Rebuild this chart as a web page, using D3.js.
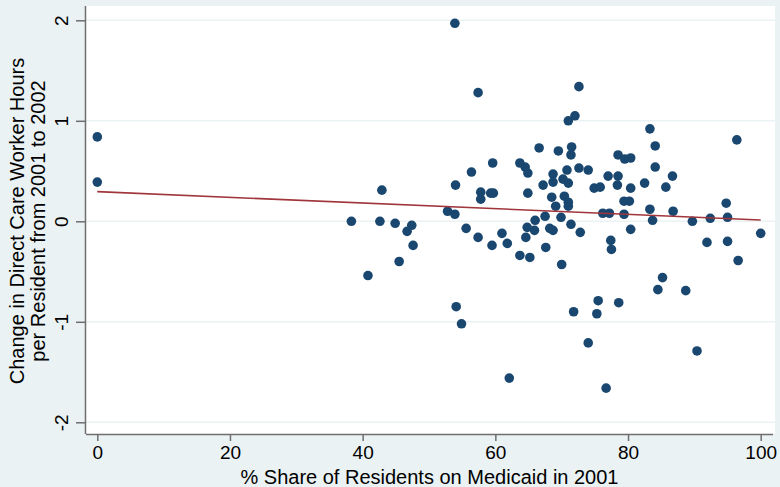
<!DOCTYPE html>
<html>
<head>
<meta charset="utf-8">
<script src="https://cdn.jsdelivr.net/npm/d3@7"></script>
<style>
  html, body { margin: 0; padding: 0; background: #eaf2f3; }
  svg { display: block; font-family: "Liberation Sans", Arial, Helvetica, sans-serif; }
</style>
</head>
<body>
<div id="chart"></div>
<script>
// % share of residents on Medicaid in 2001
const medicaidShare = [
    0, 0, 38.3, 42.6, 42.9, 44.9, 40.8, 45.5, 47.4, 46.7,
    47.6, 52.8, 53.9, 54.0, 55.6, 56.4, 57.4, 57.8, 57.8, 59.3,
    59.7, 59.6, 59.5, 61.0, 61.8, 63.7, 64.5, 64.9, 64.9, 64.8,
    64.6, 63.7, 65.2, 53.9, 57.4, 72.6, 71.0, 72.0, 66.6, 69.5,
    71.5, 71.4, 83.3, 84.1, 96.4, 78.5, 79.5, 80.4, 68.7, 70.8,
    72.6, 74.0, 68.7, 70.2, 71.0, 67.2, 68.5, 70.4, 71.0, 69.1,
    71.0, 74.9, 75.8, 77.0, 78.5, 78.4, 80.4, 82.5, 84.1, 86.7,
    85.7, 79.4, 80.2, 76.2, 77.2, 79.4, 83.3, 83.7, 86.8, 89.7,
    92.4, 94.8, 95.0, 100.0, 91.9, 95.0, 80.4, 77.4, 77.5, 71.4,
    72.8, 69.9, 67.5, 66.0, 65.9, 68.2, 68.7, 67.6, 70.0, 96.6,
    54.1, 54.9, 62.1, 71.8, 74.0, 75.5, 75.3, 78.6, 76.7, 84.5,
    85.2, 88.7, 90.4
];

// change in direct care worker hours per resident, 2001 to 2002
const hoursChange = [
    0.84, 0.39, 0.00, 0.00, 0.31, -0.02, -0.54, -0.40, -0.04, -0.10,
    -0.24, 0.10, 0.07, 0.36, -0.07, 0.49, -0.16, 0.29, 0.22, 0.28,
    0.28, 0.58, -0.24, -0.12, -0.22, 0.58, 0.54, 0.48, 0.28, -0.06,
    -0.16, -0.34, -0.36, 1.97, 1.28, 1.34, 1.00, 1.05, 0.73, 0.70,
    0.74, 0.66, 0.92, 0.75, 0.81, 0.66, 0.62, 0.63, 0.47, 0.51,
    0.53, 0.51, 0.39, 0.42, 0.38, 0.36, 0.24, 0.25, 0.19, 0.15,
    0.15, 0.33, 0.34, 0.45, 0.45, 0.36, 0.33, 0.38, 0.54, 0.45,
    0.34, 0.20, 0.20, 0.08, 0.08, 0.07, 0.12, 0.01, 0.10, 0.00,
    0.03, 0.18, 0.04, -0.12, -0.21, -0.20, -0.08, -0.19, -0.28, -0.03,
    -0.11, 0.04, 0.05, 0.01, -0.09, -0.07, -0.09, -0.26, -0.43, -0.39,
    -0.85, -1.02, -1.56, -0.90, -1.21, -0.79, -0.92, -0.81, -1.66, -0.68,
    -0.56, -0.69, -1.29
];

// fitted line endpoints
const fitX = [0, 100];
const fitY = [0.295, 0.013];

const xTicks = [0, 20, 40, 60, 80, 100];
const yTicks = [-2, -1, 0, 1, 2];

const W = 780, H = 487;
const plot = {left: 86, right: 775, top: 6, bottom: 434};

const svg = d3.select('#chart').append('svg')
    .attr('width', W)
    .attr('height', H);

svg.append('rect')
    .attr('width', W).attr('height', H)
    .attr('fill', '#eaf2f3');

svg.append('rect')
    .attr('x', plot.left).attr('y', plot.top)
    .attr('width', plot.right - plot.left)
    .attr('height', plot.bottom - plot.top)
    .attr('fill', '#ffffff');

const x = d3.scaleLinear().domain([0, 100]).range([97.3, 760.7]);
const y = d3.scaleLinear().domain([-2, 2]).range([422.3, 20.3]);

// gridlines
svg.append('g')
    .selectAll('line')
    .data(yTicks)
  .enter().append('line')
    .attr('x1', plot.left)
    .attr('x2', plot.right)
    .attr('y1', d => y(d))
    .attr('y2', d => y(d))
    .attr('stroke', '#eaf2f3')
    .attr('stroke-width', 1.6);

// points
const points = medicaidShare.map((v, i) => ({x: v, y: hoursChange[i]}));

svg.append('g')
    .selectAll('circle')
    .data(points)
  .enter().append('circle')
    .attr('cx', d => x(d.x))
    .attr('cy', d => y(d.y))
    .attr('r', 4.8)
    .attr('fill', '#1a476f');

// fitted values line
svg.append('path')
    .datum(fitX.map((v, i) => [v, fitY[i]]))
    .attr('d', d3.line().x(d => x(d[0])).y(d => y(d[1])))
    .attr('fill', 'none')
    .attr('stroke', '#a0363c')
    .attr('stroke-width', 1.6);

// x axis
const xAxis = svg.append('g')
    .attr('transform', `translate(0,${plot.bottom})`)
    .call(d3.axisBottom(x).tickValues(xTicks).tickSize(7).tickPadding(5).tickSizeOuter(0));
xAxis.select('.domain')
    .attr('d', `M${plot.left},0.5H${plot.right - 2}`)
    .attr('stroke', '#6e6e6e')
    .attr('stroke-width', 1.5);
xAxis.selectAll('.tick line').attr('stroke', '#6e6e6e').attr('stroke-width', 1.5);
xAxis.selectAll('.tick text')
    .style('font-size', '19px')
    .style('font-family', '"Liberation Sans", Arial, sans-serif')
    .attr('fill', '#000');

// y axis (plain hyphen for negatives, like the original)
const yAxis = svg.append('g')
    .attr('transform', `translate(${plot.left},0)`)
    .call(d3.axisLeft(y).tickValues(yTicks).tickSize(10).tickSizeOuter(0).tickFormat(d => String(d)));
yAxis.select('.domain')
    .attr('d', `M-0.5,${plot.top}V${plot.bottom}`)
    .attr('stroke', '#6e6e6e')
    .attr('stroke-width', 1.5);
yAxis.selectAll('.tick line').attr('stroke', '#6e6e6e').attr('stroke-width', 1.5);
yAxis.selectAll('.tick text')
    .attr('x', null)
    .attr('dy', null)
    .attr('transform', 'translate(-18,0) rotate(-90)')
    .attr('text-anchor', 'middle')
    .style('font-size', '19px')
    .style('font-family', '"Liberation Sans", Arial, sans-serif')
    .attr('fill', '#000');

// axis titles
svg.append('text')
    .attr('x', (plot.left + plot.right) / 2 - 1)
    .attr('y', 484)
    .attr('text-anchor', 'middle')
    .style('font-size', '20px')
    .text('% Share of Residents on Medicaid in 2001');

const yTitle = svg.append('text')
    .attr('transform', `translate(0,221) rotate(-90)`)
    .attr('text-anchor', 'middle')
    .style('font-size', '20px');
yTitle.append('tspan').attr('x', 0).attr('y', 24).text('Change in Direct Care Worker Hours');
yTitle.append('tspan').attr('x', 0).attr('y', 45).text('per Resident from 2001 to 2002');
</script>
</body>
</html>
